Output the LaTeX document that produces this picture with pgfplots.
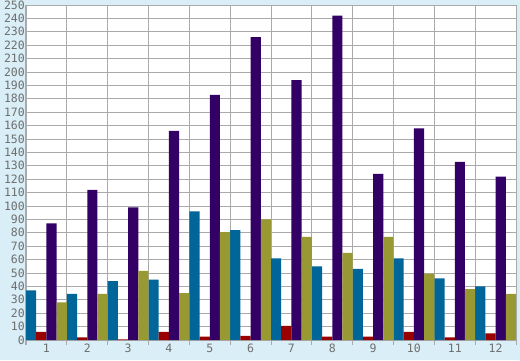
\documentclass[border=0pt]{standalone}
\usepackage{pgfplots}
\pgfplotsset{compat=1.18}
\usepackage{fontspec}
\setmainfont{DejaVu Sans Mono}
\definecolor{bg}{RGB}{217,238,246}
\definecolor{gridgray}{RGB}{170,170,170}
\definecolor{tickgray}{RGB}{110,110,110}
\definecolor{sblue}{RGB}{0,102,153}
\definecolor{sred}{RGB}{153,0,0}
\definecolor{spurple}{RGB}{51,0,102}
\definecolor{solive}{RGB}{153,153,51}
\begin{document}
\begin{tikzpicture}
\fill[bg] (0,0) rectangle (520pt,360pt);
\begin{axis}[
  at={(26pt,20pt)}, anchor=south west,
  scale only axis, width=490pt, height=335pt,
  xmin=0.5, xmax=12.5, ymin=0, ymax=250,
  ybar=0pt, bar width=10.2pt,
  axis background/.style={fill=white},
  xtick={1,...,12},
  minor xtick={0.5,1.5,...,12.5},
  xminorgrids, ymajorgrids,
  ytick={0,10,...,250},
  grid style={gridgray, line width=1pt},
  minor grid style={gridgray, line width=1pt},
  axis line style={gridgray, line width=1pt},
  major tick length=0pt, minor tick length=5pt,
  tick align=outside, xtick pos=bottom, ytick pos=left,
  minor tick style={gridgray, line width=1pt},
  /pgf/number format/assume math mode=true,
  ticklabel style={font=\fontsize{11.5}{12}\selectfont, text=tickgray, inner sep=1pt},
  xticklabel style={yshift=-3pt},
  yticklabel style={xshift=0pt},
]
\addplot[fill=sblue, draw=none] coordinates {(1,37) (2,34.5) (3,44) (4,45) (5,96) (6,82) (7,61) (8,55) (9,53) (10,61) (11,46) (12,40)};
\addplot[fill=sred, draw=none] coordinates {(1,6) (2,2) (3,0.5) (4,6) (5,2.5) (6,3) (7,10.5) (8,2.5) (9,2.5) (10,6) (11,2) (12,5)};
\addplot[fill=spurple, draw=none] coordinates {(1,87) (2,112) (3,99) (4,156) (5,183) (6,226) (7,194) (8,242) (9,124) (10,158) (11,133) (12,122)};
\addplot[fill=solive, draw=none] coordinates {(1,28) (2,34.5) (3,51.5) (4,35) (5,80.5) (6,90) (7,77) (8,65) (9,77) (10,49.5) (11,38) (12,34.5)};
\end{axis}
\pgfresetboundingbox
\path (0,0) rectangle (520pt,360pt);
\end{tikzpicture}
\end{document}
